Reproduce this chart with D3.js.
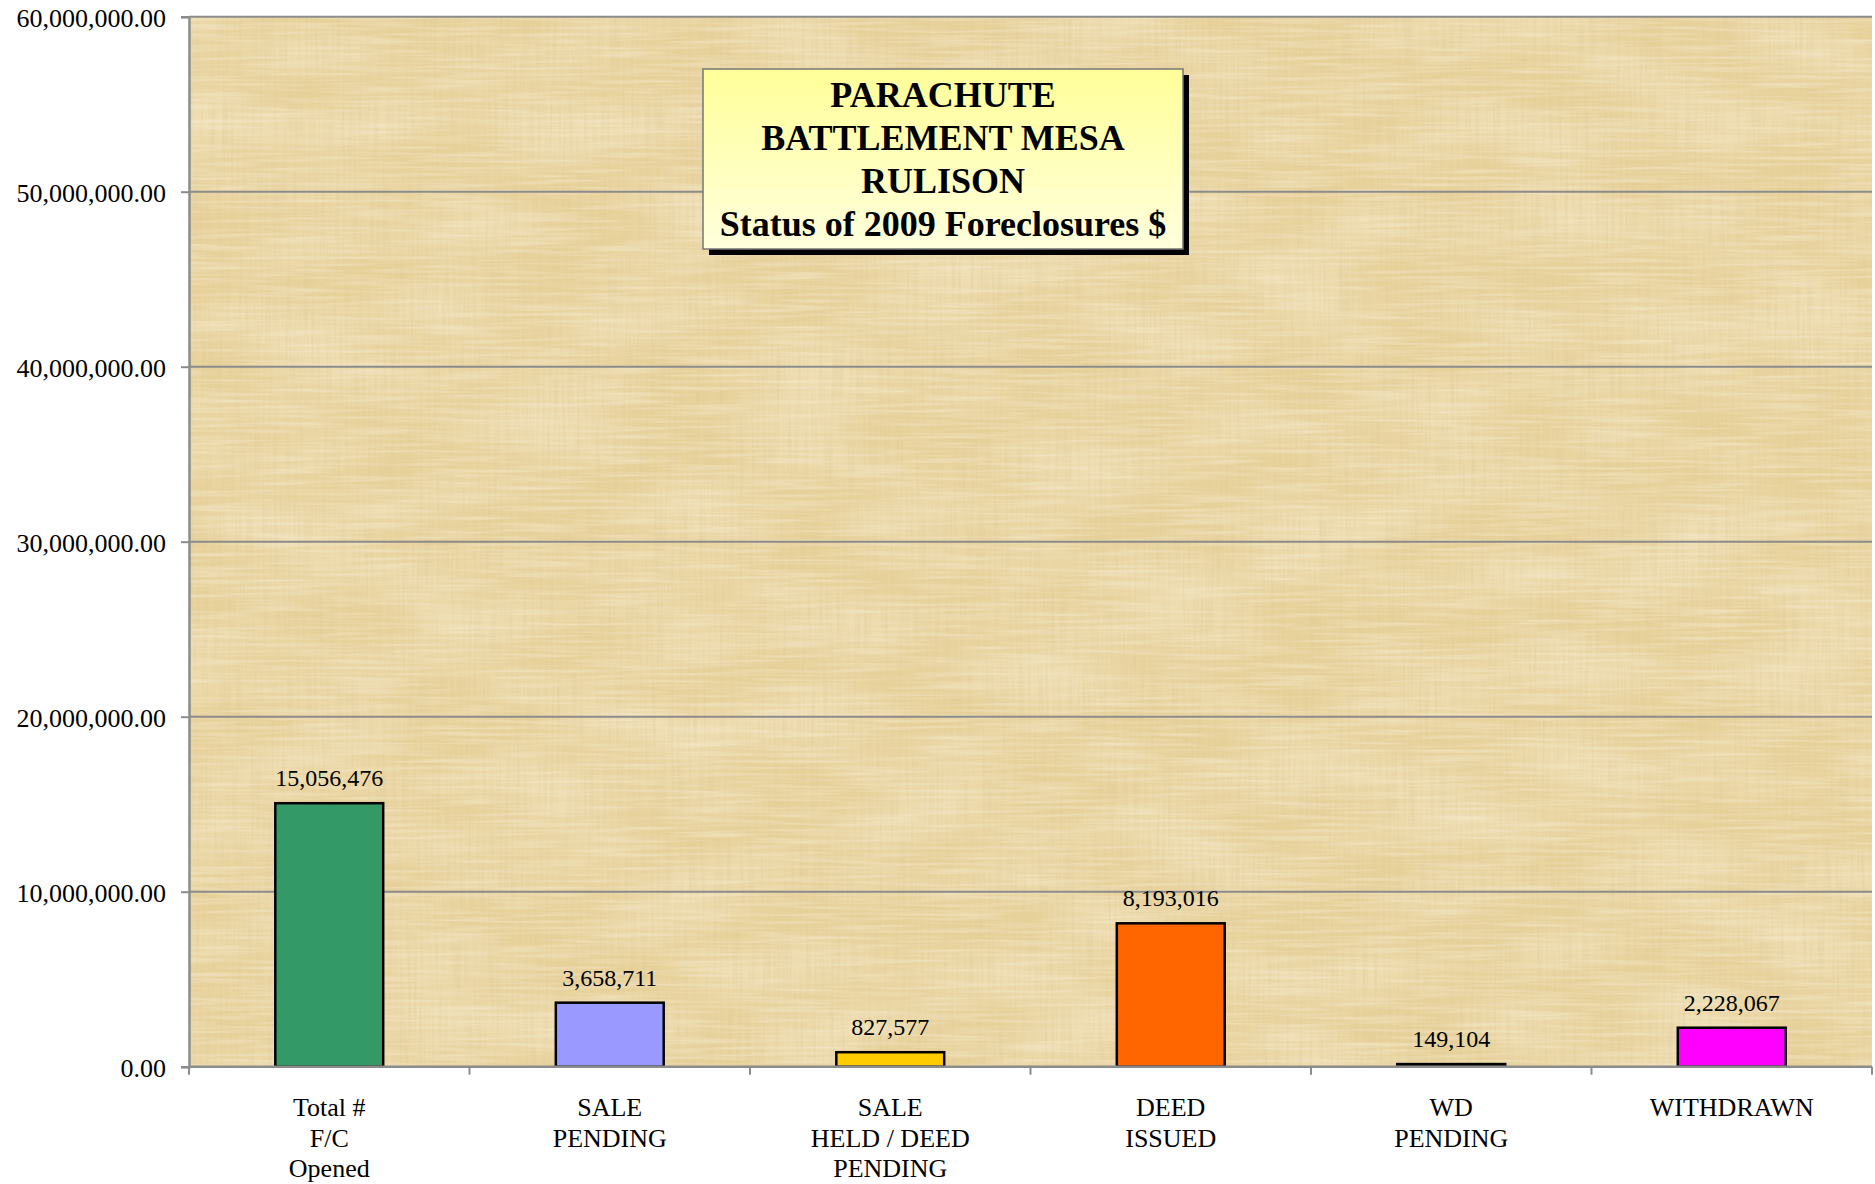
<!DOCTYPE html>
<html>
<head>
<meta charset="utf-8">
<script src="https://cdn.jsdelivr.net/npm/d3@7"></script>
<style>
  html, body { margin: 0; padding: 0; background: #ffffff; }
  svg { display: block; }
  text { font-family: "Liberation Serif", "Times New Roman", serif; fill: #000; }
</style>
</head>
<body>
<svg id="chart" width="1875" height="1184"></svg>
<script>
// ---- Data ----
const categories = ["Total #\nF/C\nOpened", "SALE\nPENDING", "SALE\nHELD / DEED\nPENDING", "DEED\nISSUED", "WD\nPENDING", "WITHDRAWN"];
const values = [15056476, 3658711, 827577, 8193016, 149104, 2228067];
const barColors = ["#339966", "#9999FF", "#FFCC00", "#FF6600", "#333333", "#FF00FF"];
const yTicks = [0, 10000000, 20000000, 30000000, 40000000, 50000000, 60000000];
const titleLines = ["PARACHUTE", "BATTLEMENT MESA", "RULISON", "Status of 2009 Foreclosures $"];

// ---- Layout ----
const plot = { left: 189, right: 1872, top: 16.7, bottom: 1066.7 };

const svg = d3.select("#chart");
const defs = svg.append("defs");

// papyrus-like texture
const f = defs.append("filter").attr("id", "papyrus")
  .attr("x", 0).attr("y", 0).attr("width", 1).attr("height", 1);
f.append("feTurbulence").attr("type", "fractalNoise")
  .attr("baseFrequency", "0.35 0.012").attr("numOctaves", 2).attr("seed", 3).attr("result", "v");
f.append("feColorMatrix").attr("in", "v").attr("type", "matrix")
  .attr("values", "0 0 0 0 0.72  0 0 0 0 0.58  0 0 0 0 0.28  0 0 0 -1.2 0.75").attr("result", "vc");
f.append("feTurbulence").attr("type", "fractalNoise")
  .attr("baseFrequency", "0.012 0.3").attr("numOctaves", 2).attr("seed", 7).attr("result", "h");
f.append("feColorMatrix").attr("in", "h").attr("type", "matrix")
  .attr("values", "0 0 0 0 0.98  0 0 0 0 0.93  0 0 0 0 0.80  0 0 0 -1.2 0.7").attr("result", "hc");
f.append("feTurbulence").attr("type", "fractalNoise")
  .attr("baseFrequency", "0.008 0.02").attr("numOctaves", 1).attr("seed", 11).attr("result", "b");
f.append("feColorMatrix").attr("in", "b").attr("type", "matrix")
  .attr("values", "0 0 0 0 0.97  0 0 0 0 0.90  0 0 0 0 0.72  0 0 0 1.4 -0.55").attr("result", "bc");
f.append("feMerge").selectAll("feMergeNode").data(["bc", "vc", "hc"]).join("feMergeNode").attr("in", d => d);

const grad = defs.append("linearGradient").attr("id", "titleGrad")
  .attr("x1", 0).attr("y1", 0).attr("x2", 0).attr("y2", 1);
grad.append("stop").attr("offset", "0%").attr("stop-color", "#FFFF99");
grad.append("stop").attr("offset", "100%").attr("stop-color", "#FFFFDD");

// Scales
const x = d3.scaleBand().domain(categories).range([plot.left, plot.right]).padding(0);
const y = d3.scaleLinear().domain([0, 60000000]).range([plot.bottom, plot.top]);
const barW = x.bandwidth() / 2.6;

// Plot background
svg.append("rect")
  .attr("x", plot.left).attr("y", plot.top)
  .attr("width", plot.right - plot.left).attr("height", plot.bottom - plot.top)
  .attr("fill", "#E8D29C");
svg.append("rect")
  .attr("x", plot.left).attr("y", plot.top)
  .attr("width", plot.right - plot.left).attr("height", plot.bottom - plot.top)
  .attr("fill", "#E8D29C").attr("filter", "url(#papyrus)").attr("opacity", 0.7);

// Gridlines
svg.append("g").selectAll("line").data(yTicks.filter(d => d > 0)).join("line")
  .attr("x1", plot.left).attr("x2", plot.right)
  .attr("y1", d => y(d)).attr("y2", d => y(d))
  .attr("stroke", "#8C8C8C").attr("stroke-width", 2);

// Y axis
const yAxis = d3.axisLeft(y).tickValues(yTicks).tickSize(8).tickPadding(15)
  .tickFormat(d3.format(",.2f"));
const gy = svg.append("g").attr("transform", `translate(${plot.left},0)`).call(yAxis);
gy.attr("font-family", null).attr("font-size", null);
gy.select(".domain").attr("stroke", "#8C8C8C").attr("stroke-width", 2.5);
gy.selectAll(".tick line").attr("stroke", "#8C8C8C").attr("stroke-width", 2);
gy.selectAll(".tick text")
  .style("font-family", '"Liberation Serif", "Times New Roman", serif')
  .style("font-size", "26px").attr("fill", "#000").attr("dy", "0.36em");

// Bars
svg.append("g").selectAll("rect").data(values).join("rect")
  .attr("x", (d, i) => x(categories[i]) + x.bandwidth() / 2 - barW / 2)
  .attr("y", d => y(d))
  .attr("width", barW)
  .attr("height", d => y(0) - y(d))
  .attr("fill", (d, i) => barColors[i])
  .attr("stroke", "#000").attr("stroke-width", 2.5);

// X axis
const xAxisLine = svg.append("g");
xAxisLine.append("line")
  .attr("x1", plot.left).attr("x2", plot.right)
  .attr("y1", plot.bottom).attr("y2", plot.bottom)
  .attr("stroke", "#8C8C8C").attr("stroke-width", 2.5);
const boundaries = categories.map(c => x(c)).concat([plot.right]);
xAxisLine.selectAll("line.tk").data(boundaries).join("line").attr("class", "tk")
  .attr("x1", d => d).attr("x2", d => d)
  .attr("y1", plot.bottom).attr("y2", plot.bottom + 8)
  .attr("stroke", "#8C8C8C").attr("stroke-width", 2);

// Category labels
const catG = svg.append("g");
categories.forEach(c => {
  const t = catG.append("text")
    .attr("x", x(c) + x.bandwidth() / 2)
    .attr("y", 1116)
    .attr("text-anchor", "middle")
    .style("font-size", "26px");
  c.split("\n").forEach((ln, j) => {
    t.append("tspan").attr("x", x(c) + x.bandwidth() / 2)
      .attr("dy", j === 0 ? 0 : 30.5).text(ln);
  });
});

// Value labels
svg.append("g").selectAll("text").data(values).join("text")
  .attr("x", (d, i) => x(categories[i]) + x.bandwidth() / 2)
  .attr("y", d => y(d) - 17)
  .attr("text-anchor", "middle")
  .style("font-size", "24px")
  .text(d => d3.format(",")(d));

// Title box
const box = { x: 703, y: 69, w: 480, h: 180 };
const tg = svg.append("g");
tg.append("rect").attr("x", box.x + 6).attr("y", box.y + 6)
  .attr("width", box.w).attr("height", box.h).attr("fill", "#000");
tg.append("rect").attr("x", box.x).attr("y", box.y)
  .attr("width", box.w).attr("height", box.h)
  .attr("fill", "url(#titleGrad)").attr("stroke", "#777").attr("stroke-width", 1.5);
tg.selectAll("text").data(titleLines).join("text")
  .attr("x", box.x + box.w / 2)
  .attr("y", (d, i) => 107 + i * 43)
  .attr("text-anchor", "middle")
  .style("font-size", "36px").style("font-weight", "bold")
  .text(d => d);
</script>
</body>
</html>
